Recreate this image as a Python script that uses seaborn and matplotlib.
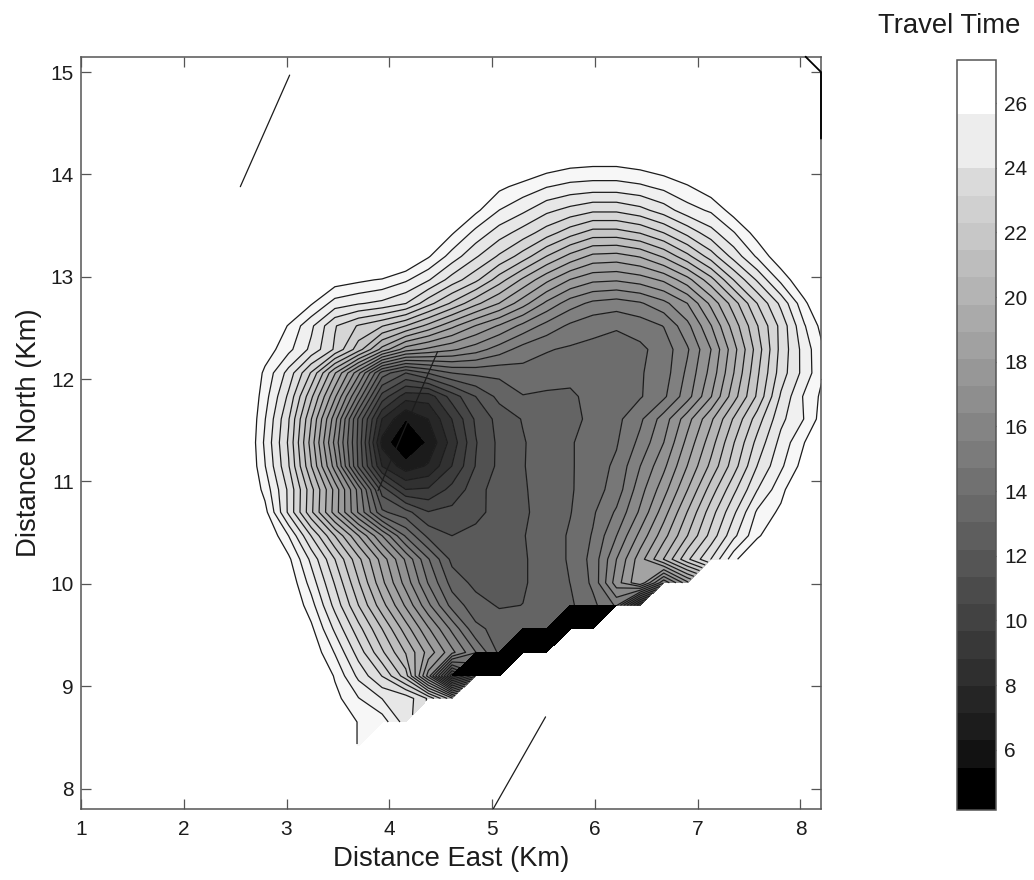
import matplotlib
matplotlib.use("Agg")
import matplotlib.pyplot as plt
from matplotlib.cm import ScalarMappable
from matplotlib.colors import BoundaryNorm, ListedColormap
import numpy as np
import seaborn as sns

n = np.nan

x_km = [2.56, 2.79, 3.02, 3.24, 3.47, 3.70, 3.93, 4.16, 4.38, 4.61, 4.84, 5.07, 5.30,
        5.53, 5.76, 5.98, 6.21, 6.44, 6.67, 6.90, 7.13, 7.35, 7.58, 7.81, 8.04, 8.27]
y_km = [14.34, 14.11, 13.88, 13.65, 13.43, 13.20, 12.97, 12.74, 12.52, 12.29, 12.06, 11.83, 11.61,
        11.38, 11.15, 10.92, 10.70, 10.47, 10.24, 10.01, 9.79, 9.56, 9.33, 9.10, 8.88, 8.65, 8.42]

# travel time, one row per y_km
travel_time = [
    [n, n, n, n, n, n, n, n, n, n, n, 30, 30, 30, 30, 30, 30, 30, 30, 30, 30, n, n, n, n, n],
    [n, n, n, n, n, n, n, n, n, n, 30, 28.3, 27.6, 27.1, 26.8, 26.7, 26.7, 26.9, 27.2, 27.7, 28.5, 30, n, n, n, n],
    [n, n, n, n, n, n, n, n, n, 30, 28, 26.7, 26.2, 25.7, 25.4, 25.3, 25.3, 25.5, 25.9, 26.4, 27.1, 28, 30, n, n, n],
    [n, n, n, n, n, n, n, n, 30, 28, 26.7, 25.65, 25, 24.2, 23.7, 23.3, 23.3, 23.7, 24.4, 25.3, 25.8, 26.9, 28, 30, n, n],
    [n, n, n, n, n, n, n, 30, 27.8, 26.6, 25.4, 24.4, 23.6, 22.7, 21.8, 21.1, 21.1, 21.5, 22.3, 23.4, 24.5, 25.6, 26.9, 28.5, 30, n],
    [n, n, n, n, n, 30, 29, 27.7, 26.6, 25.3, 24.1, 23, 21.9, 20.6, 19.5, 18.7, 18.6, 19, 19.9, 21.2, 22.7, 24.3, 25.8, 27.2, 29, 30],
    [n, n, 30, 28.5, 27, 26.7, 26.4, 25.8, 24.9, 23.6, 22.5, 21, 19.6, 18.3, 17.2, 16.6, 16.5, 16.8, 17.4, 18.6, 20.3, 22.3, 24.1, 25.9, 27.4, 29],
    [n, 30, 28, 26.6, 25.3, 24.9, 24.6, 24, 22.6, 21.3, 20, 18.9, 17.6, 16.2, 15.1, 14.5, 14.3, 14.6, 15.3, 16.4, 18.3, 20.2, 22.3, 24.2, 26.3, 28],
    [30, 28, 26.4, 25, 23.2, 22.2, 21.5, 20.6, 19.5, 18.3, 17.2, 16.3, 15.3, 14.4, 13.7, 13.3, 13.1, 13.4, 13.9, 15.3, 17.2, 19.3, 21.4, 23.4, 25.6, 27.2],
    [30, 27, 25.9, 24.6, 23, 21, 18.6, 16.8, 16.2, 15.7, 15.1, 14.3, 13.5, 13.1, 12.9, 12.8, 12.75, 12.85, 13.4, 14.6, 16.4, 18.6, 21, 23.4, 25.2, 26.8],
    [28, 26.3, 24.5, 22.2, 19, 15.8, 11.8, 10.5, 11.4, 12.2, 12.4, 12.4, 12.7, 12.6, 12.35, 12.4, 12.7, 12.95, 13.45, 14.9, 16.7, 18.9, 21.3, 23.55, 25.15, 26.8],
    [28, 26, 23.8, 20.8, 17.4, 13.6, 9.3, 7.5, 7.5, 9.2, 10.5, 11.6, 12.15, 12.05, 12.1, 12.35, 12.6, 12.95, 13.7, 15.2, 17.2, 19.4, 21.6, 24.1, 25.8, 27],
    [28, 25.7, 23.2, 19.8, 15.9, 11.2, 7.1, 5.45, 6.3, 8, 9.8, 10.8, 11.4, 11.7, 12, 12.35, 12.8, 13.7, 15.1, 16.9, 18.75, 20.7, 22.7, 24.6, 25.7, 27.3],
    [28, 25.5, 23, 19.4, 15.3, 11.1, 6, 4.3, 5.6, 7.5, 9.6, 10.7, 11.27, 11.8, 12.1, 12.6, 12.95, 14.1, 15.55, 17.5, 19.4, 21.4, 23.4, 25.1, 26.5, 28],
    [28, 25.7, 23.2, 19.8, 16, 11.2, 7.1, 5.8, 6.4, 8, 9.7, 10.7, 11.3, 11.7, 12.1, 12.6, 13.2, 14.7, 16.2, 18.1, 20, 21.9, 24, 25.5, 26.9, 28],
    [28, 26.2, 23.8, 20.9, 17.8, 14.4, 10.1, 8, 8.1, 9.1, 10.1, 11, 11.25, 11.7, 12.1, 12.65, 13.4, 15.2, 16.9, 18.9, 21, 22.9, 24.8, 26.2, 27.8, 30],
    [28, 26.8, 23.8, 20.8, 17.7, 14.6, 11.5, 10.8, 9.7, 9.9, 10.2, 10.9, 11.2, 11.7, 12.15, 12.9, 14, 15.7, 17.7, 19.8, 21.9, 23.8, 25.8, 26.7, 28, 30],
    [30, 27.5, 25.65, 23.1, 20.6, 18.1, 15.55, 12.9, 11.1, 10.5, 10.8, 11.1, 11.3, 11.7, 12.3, 13.1, 14.7, 16.65, 18.6, 20.6, 22.6, 24.6, 26.3, 27.7, 30, n],
    [n, 28, 26.7, 24.6, 22.3, 20, 17.7, 15.4, 13.1, 11.1, 10.9, 11, 11.25, 11.7, 12.3, 13.3, 15.55, 17.7, 19.8, 22.1, 24, 26.2, 28, 30, n, n],
    [n, 30, 27.2, 25.3, 23.05, 20.7, 18.3, 16.05, 13.8, 11.85, 11.1, 11.05, 11.25, 11.7, 12.2, 13.2, 16, 18, 14, 17, n, n, n, n, n, n],
    [n, 30, 27.5, 26, 23.7, 21.45, 19.25, 17.1, 14.9, 12.7, 11.7, 11.25, 11.35, 11.75, 12.05, 12.8, 14, 8, n, n, n, n, n, n, n, n],
    [n, n, 30, 26.7, 24.65, 22.6, 20.6, 18.5, 16.5, 14.5, 12.4, 11.9, 12, 12, 12, 12, n, n, n, n, n, n, n, n, n, n],
    [n, n, 30, 27.2, 25.6, 23.6, 21.6, 19.7, 17.75, 15.8, 13.9, 12, 12, 12, n, n, n, n, n, n, n, n, n, n, n, n],
    [n, n, n, 28, 26.4, 24.6, 23.1, 21, 16, 9, 12, 12, n, n, n, n, n, n, n, n, n, n, n, n, n, n],
    [n, n, n, 29, 26.8, 25.7, 24.8, 24.5, 23, 20, n, n, n, n, n, n, n, n, n, n, n, n, n, n, n, n],
    [n, n, n, n, 28, 26.4, 26.1, 24.4, n, n, n, n, n, n, n, n, n, n, n, n, n, n, n, n, n, n],
    [n, n, n, n, n, 26.4, n, n, n, n, n, n, n, n, n, n, n, n, n, n, n, n, n, n, n, n],
]

# grid nodes (x_km value, y_km value) of the solid black stairs along the lower edge
black_nodes = [(4.61, 9.10), (4.84, 9.10), (5.07, 9.10), (4.84, 9.33), (5.07, 9.33), (5.30, 9.33), (5.53, 9.33),
               (5.30, 9.56), (5.53, 9.56), (5.76, 9.56), (5.98, 9.56), (5.76, 9.79), (5.98, 9.79), (6.21, 9.79)]

levels = [5.45, 6.29, 7.13, 7.98, 8.82, 9.66, 10.5, 11.34, 12.19, 13.03, 13.87, 14.71, 15.55,
          16.4, 17.24, 18.08, 18.92, 19.77, 20.61, 21.45, 22.29, 23.13, 23.98, 24.82, 25.66, 26.5]
time_min = 4.14
time_max = 27.33

# straight traces on the map
trace_1_x = [2.55, 3.03]
trace_1_y = [13.88, 14.97]
trace_2_x = [3.89, 4.47]
trace_2_y = [10.91, 12.27]
trace_3_x = [5.01, 5.52]
trace_3_y = [7.8, 8.7]
corner_x = [8.05, 8.2, 8.2]
corner_y = [15.15, 15.0, 14.35]

x_ticks = [1, 2, 3, 4, 5, 6, 7, 8]
y_ticks = [8, 9, 10, 11, 12, 13, 14, 15]
bar_ticks = [6, 8, 10, 12, 14, 16, 18, 20, 22, 24, 26]

sns.set_theme(style="white")
plt.rcParams['font.family'] = ['Liberation Sans', 'DejaVu Sans']
ink = '#1c1c1c'
frame = '#555555'

fig = plt.figure(figsize=(10.34, 8.8), dpi=100)
ax = fig.add_axes([81 / 1034, 71 / 880, 740 / 1034, 752 / 880])
cax = fig.add_axes([957 / 1034, 70 / 880, 39 / 1034, 750 / 880])

grays = sns.color_palette("gray", len(levels))
grays[0] = (0, 0, 0)
# the map bands print a little lighter than the scale bar
map_grays = [tuple(c ** 0.85 for c in g) for g in grays]

X = np.array(x_km)
Y = np.array(y_km)
Z = np.array(travel_time)

ax.contourf(X, Y, Z, levels=[3.5] + levels, colors=map_grays)
ax.contour(X, Y, Z, levels=levels, colors=ink, linewidths=0.9)

black = np.full(Z.shape, np.nan)
for bx, by in black_nodes:
    black[y_km.index(by), x_km.index(bx)] = 0
ax.contourf(X, Y, black, levels=[-1, 1], colors='black', zorder=3)

for tx, ty in [(trace_1_x, trace_1_y), (trace_2_x, trace_2_y), (trace_3_x, trace_3_y)]:
    ax.plot(tx, ty, color=ink, lw=0.9, zorder=4)
ax.plot(corner_x, corner_y, color='black', lw=1.3, zorder=4, clip_on=False)

ax.set_xlim(1, 8.2)
ax.set_ylim(7.8, 15.147)
ax.set_xticks(x_ticks)
ax.set_yticks(y_ticks)
ax.tick_params(direction='in', length=7, width=0.9, color=frame, top=True, right=True, bottom=True, left=True,
               labelsize=15, labelcolor=ink)
ax.tick_params(axis='y', pad=5)
ax.tick_params(axis='x', pad=8)
ax.set_xlabel('Distance East (Km)', fontsize=19.8, color=ink, labelpad=5)
ax.set_ylabel('Distance North (Km)', fontsize=19.8, color=ink, labelpad=6)
for side in ax.spines.values():
    side.set_color(frame)
    side.set_linewidth(1.1)

# the scale bar is lighter at its top end than the map bands
bar_colors = list(grays[:23]) + [(0.93, 0.93, 0.93)] * 2 + [(1, 1, 1)] * 2
bounds = [time_min] + levels + [time_max]
sm = ScalarMappable(norm=BoundaryNorm(bounds, len(bar_colors)), cmap=ListedColormap(bar_colors))
bar = fig.colorbar(sm, cax=cax, boundaries=bounds, spacing='proportional', ticks=bar_ticks, drawedges=False)
bar.ax.tick_params(direction='in', length=7, width=0.9, color=frame, left=True, right=True, labelsize=15,
                   labelcolor=ink, pad=6)
bar.ax.minorticks_off()
bar.outline.set_edgecolor(frame)
bar.outline.set_linewidth(1.1)

fig.text(1020 / 1034, 1 - 33 / 880, 'Travel Time', ha='right', va='baseline', fontsize=19.8, color=ink)

fig.savefig('out.png', dpi=100)
